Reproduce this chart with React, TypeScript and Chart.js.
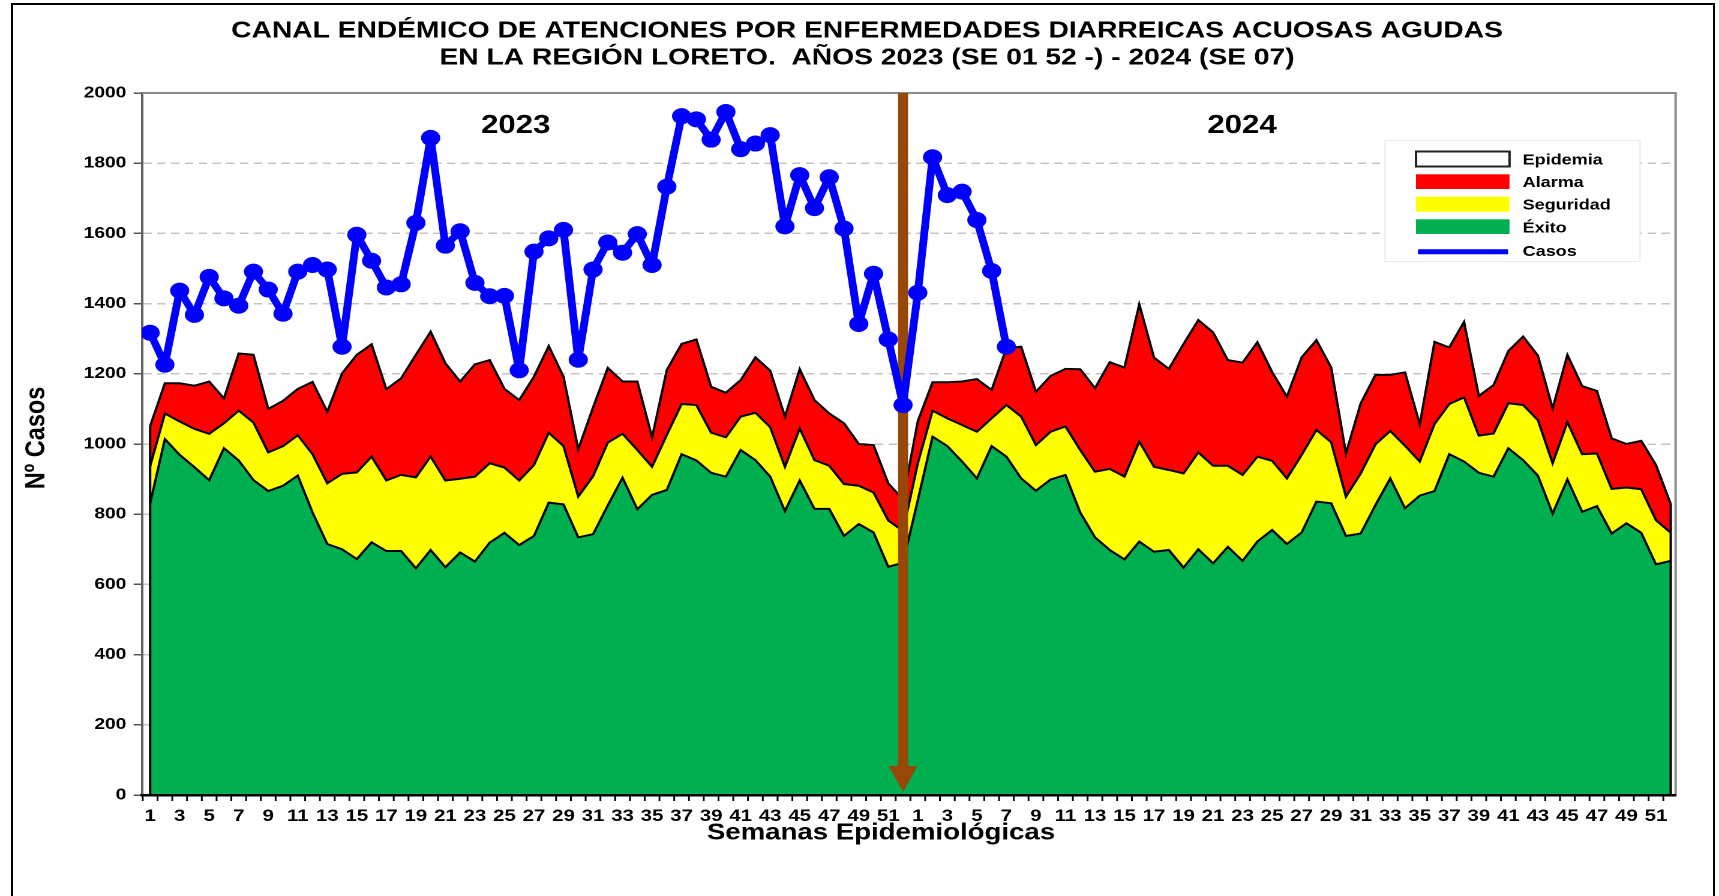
import React, { useEffect, useRef } from 'react';
import { Chart, registerables } from 'chart.js';

Chart.register(...registerables);

// ---------- DATA ----------
const SEMANAS = [1, 2, 3, 4, 5, 6, 7, 8, 9, 10, 11, 12, 13, 14, 15, 16, 17, 18, 19, 20, 21, 22, 23, 24, 25, 26,
  27, 28, 29, 30, 31, 32, 33, 34, 35, 36, 37, 38, 39, 40, 41, 42, 43, 44, 45, 46, 47, 48, 49, 50, 51, 52];
const YEARS = ['2023', '2024'];

const TITLE_LINES = [
  'CANAL ENDÉMICO DE ATENCIONES POR ENFERMEDADES DIARREICAS ACUOSAS AGUDAS',
  'EN LA REGIÓN LORETO.  AÑOS 2023 (SE 01 52 -) - 2024 (SE 07)',
];
const X_TITLE = 'Semanas Epidemiológicas';
const Y_TITLE = 'Nº Casos';
const LEGEND_LABELS = ['Epidemia', 'Alarma', 'Seguridad', 'Éxito', 'Casos'];

// upper limit of each zone per week
const EXITO_2023 = [831, 1014, 969, 934, 897, 988, 953, 897, 866, 881, 910, 805, 715, 700, 672, 720, 695, 695, 646, 698,
  649, 691, 665, 719, 747, 712, 738, 833, 828, 734, 743, 825, 904, 814, 855, 869, 971, 953, 918, 907,
  983, 954, 907, 809, 896, 815, 815, 738, 772, 748, 650, 662];
const SEGURIDAD_2023 = [937, 1087, 1064, 1043, 1029, 1059, 1095, 1061, 976, 994, 1025, 971, 888, 915, 919, 964, 896, 912, 905, 964,
  896, 901, 907, 945, 933, 896, 940, 1032, 994, 850, 908, 1004, 1029, 983, 935, 1026, 1114, 1111, 1032, 1019,
  1078, 1089, 1048, 935, 1044, 954, 938, 886, 881, 862, 782, 752];
const ALARMA_2023 = [1051, 1173, 1173, 1166, 1178, 1130, 1258, 1254, 1100, 1123, 1157, 1177, 1092, 1201, 1254, 1284, 1156, 1187, 1254, 1320,
  1230, 1178, 1227, 1239, 1157, 1125, 1192, 1279, 1192, 985, 1104, 1217, 1178, 1178, 1019, 1211, 1285, 1298, 1163, 1146,
  1182, 1247, 1209, 1078, 1213, 1125, 1087, 1059, 1000, 997, 888, 842];

const EXITO_2024 = [840, 1021, 994, 950, 902, 994, 964, 902, 867, 899, 912, 805, 734, 698, 671, 722, 693, 698, 648, 700,
  660, 707, 667, 722, 755, 715, 748, 836, 831, 738, 745, 826, 902, 817, 853, 866, 971, 950, 918, 907,
  988, 954, 910, 802, 899, 807, 823, 745, 774, 747, 657, 667];
const SEGURIDAD_2024 = [945, 1095, 1073, 1054, 1035, 1073, 1111, 1078, 997, 1035, 1050, 983, 921, 929, 907, 1007, 935, 926, 916, 976,
  938, 938, 912, 964, 952, 902, 969, 1040, 1005, 850, 916, 999, 1037, 995, 950, 1057, 1114, 1133, 1024, 1030,
  1116, 1111, 1068, 945, 1062, 971, 973, 872, 876, 871, 783, 747];
const ALARMA_2024 = [1065, 1176, 1176, 1178, 1185, 1154, 1273, 1277, 1149, 1194, 1214, 1213, 1159, 1233, 1218, 1398, 1246, 1214, 1285, 1353,
  1318, 1239, 1232, 1290, 1205, 1135, 1247, 1296, 1218, 973, 1116, 1197, 1197, 1204, 1056, 1291, 1275, 1348, 1137, 1168,
  1265, 1306, 1252, 1102, 1254, 1165, 1151, 1016, 1000, 1009, 940, 829];

const CASOS_2023 = [1317, 1226, 1437, 1368, 1476, 1415, 1394, 1491, 1440, 1371, 1491, 1510, 1497, 1277, 1596, 1522, 1446, 1455, 1630, 1872,
  1565, 1606, 1459, 1421, 1422, 1210, 1548, 1586, 1610, 1240, 1497, 1574, 1545, 1598, 1510, 1733, 1934, 1925, 1867, 1946,
  1840, 1856, 1880, 1620, 1766, 1672, 1760, 1614, 1342, 1485, 1298, 1111];
const CASOS_2024 = [1431, 1817, 1709, 1719, 1638, 1493, 1277];

const Y_MIN = 0;
const Y_MAX = 2000;
const Y_STEP = 200;

// ---------- LAYOUT / STYLE ----------
const S = 1.2; // horizontal stretch of the whole figure
const CW = 1433;
const CH = 896;
const ux = (x: number) => x / S;
const PLOT_LEFT = ux(142);
const PLOT_RIGHT = ux(1675.6);
const PLOT_TOP = 93;
const PLOT_BOTTOM = 795;
const FONT = '"Liberation Sans", Arial, Helvetica, sans-serif';
const GREEN = '#00B050';
const YELLOW = '#FFFF00';
const RED = '#FF0000';
const BLUE = '#0000FF';
const BROWN = '#974806';

const TICK_LABELS = [...SEMANAS, ...SEMANAS];
const EXITO = [...EXITO_2023, ...EXITO_2024];
const SEGURIDAD = [...SEGURIDAD_2023, ...SEGURIDAD_2024];
const ALARMA = [...ALARMA_2023, ...ALARMA_2024];
const CASOS = [...CASOS_2023, ...CASOS_2024];
const ARROW_INDEX = SEMANAS.length - 1; // last week of 2023

const pts = (arr: number[]) => arr.map((v, i) => ({ x: i, y: v }));

function txt(ctx: CanvasRenderingContext2D, s: string, x: number, y: number, size: number, align: CanvasTextAlign = 'center') {
  ctx.font = `bold ${size}px ${FONT}`;
  ctx.fillStyle = '#000';
  ctx.textAlign = align;
  ctx.textBaseline = 'middle';
  ctx.fillText(s, x, y);
}

const decor = {
  id: 'decor',
  beforeDatasetsDraw(chart: any) {
    const { ctx, chartArea: a } = chart;
    ctx.save();
    ctx.strokeStyle = '#8a8a8a';
    ctx.lineWidth = 2;
    ctx.beginPath();
    ctx.moveTo(a.left, a.top);
    ctx.lineTo(a.right, a.top);
    ctx.lineTo(a.right, a.bottom);
    ctx.stroke();
    ctx.restore();
  },
  beforeDatasetDraw(chart: any, args: any) {
    if (args.index !== 0) return;
    const { ctx, chartArea: a } = chart;
    const xs = chart.scales.x;
    const ys = chart.scales.y;
    ctx.save();
    // vertical edges of the area block
    ctx.strokeStyle = '#000';
    ctx.lineWidth = 2;
    const first = 0;
    const last = ALARMA.length - 1;
    ctx.beginPath();
    ctx.moveTo(xs.getPixelForValue(first), ys.getPixelForValue(0));
    ctx.lineTo(xs.getPixelForValue(first), ys.getPixelForValue(ALARMA[first]));
    ctx.moveTo(xs.getPixelForValue(last), ys.getPixelForValue(0));
    ctx.lineTo(xs.getPixelForValue(last), ys.getPixelForValue(ALARMA[last]));
    ctx.stroke();
    // brown arrow separating the years
    const ax = xs.getPixelForValue(ARROW_INDEX);
    const headTop = a.bottom - 29;
    const tip = a.bottom - 3;
    ctx.fillStyle = BROWN;
    ctx.fillRect(ax - 4.2, a.top, 8.4, headTop - a.top + 1);
    ctx.beginPath();
    ctx.moveTo(ax - 12, headTop);
    ctx.lineTo(ax + 12, headTop);
    ctx.lineTo(ax, tip);
    ctx.closePath();
    ctx.fill();
    ctx.restore();
  },
  afterDraw(chart: any) {
    const { ctx, chartArea: a } = chart;
    const xs = chart.scales.x;
    ctx.save();
    // x tick marks between categories
    ctx.strokeStyle = '#000';
    ctx.lineWidth = 1.5;
    ctx.beginPath();
    for (let k = 0; k <= TICK_LABELS.length; k++) {
      const v = k - 0.5;
      if (v < xs.min || v > xs.max) continue;
      const px = xs.getPixelForValue(v);
      ctx.moveTo(px, a.bottom);
      ctx.lineTo(px, a.bottom + 6);
    }
    ctx.stroke();

    // titles
    txt(ctx, TITLE_LINES[0], ux(867), 31, 23.5);
    txt(ctx, TITLE_LINES[1], ux(867), 58, 23.5);
    txt(ctx, YEARS[0], ux(515.7), 126, 26);
    txt(ctx, YEARS[1], ux(1242), 126, 26);
    txt(ctx, X_TITLE, ux(881), 833, 23);
    ctx.save();
    ctx.translate(ux(36.5), 438);
    ctx.rotate(-Math.PI / 2);
    txt(ctx, Y_TITLE, 0, 0, 23.5);
    ctx.restore();

    // legend
    const lx0 = ux(1385);
    const lx1 = ux(1640);
    ctx.fillStyle = '#fff';
    ctx.fillRect(lx0, 140.5, lx1 - lx0, 121);
    ctx.strokeStyle = '#e4e9ef';
    ctx.lineWidth = 1;
    ctx.strokeRect(lx0, 140.5, lx1 - lx0, 121);
    const sx0 = ux(1416);
    const sx1 = ux(1509.5);
    const sw = sx1 - sx0;
    ctx.fillStyle = '#fff';
    ctx.fillRect(sx0, 151.5, sw, 15);
    ctx.strokeStyle = '#222';
    ctx.lineWidth = 2;
    ctx.strokeRect(sx0, 151.5, sw, 15);
    ctx.fillStyle = RED;
    ctx.fillRect(sx0, 174.3, sw, 14.7);
    ctx.fillStyle = YELLOW;
    ctx.fillRect(sx0, 196.7, sw, 15);
    ctx.fillStyle = GREEN;
    ctx.fillRect(sx0, 219.3, sw, 14.7);
    ctx.strokeStyle = BLUE;
    ctx.lineWidth = 5;
    ctx.beginPath();
    ctx.moveTo(ux(1418), 251.7);
    ctx.lineTo(ux(1508), 251.7);
    ctx.stroke();
    const rowsY = [160.5, 183, 205.5, 228.5, 251.7];
    LEGEND_LABELS.forEach((l, i) => txt(ctx, l, ux(1522.7), rowsY[i], 15, 'left'));
    ctx.restore();
  },
};

export default function App() {
  const ref = useRef<HTMLCanvasElement>(null);

  useEffect(() => {
    const canvas = ref.current;
    if (!canvas) return;
    const areaCommon = { borderColor: '#000', borderWidth: 2, pointRadius: 0, pointHoverRadius: 0, tension: 0 };
    const chart = new Chart(canvas, {
      type: 'line',
      data: {
        datasets: [
          {
            label: LEGEND_LABELS[4], data: pts(CASOS), borderColor: BLUE, backgroundColor: BLUE,
            borderWidth: 6.5, borderJoinStyle: 'round', borderCapStyle: 'round',
            pointRadius: 8, pointHoverRadius: 8, pointBackgroundColor: BLUE,
            pointBorderColor: BLUE, pointBorderWidth: 0, fill: false, tension: 0,
          },
          {
            label: LEGEND_LABELS[0], data: pts(ALARMA), showLine: false, pointRadius: 0, pointHoverRadius: 0,
            borderWidth: 0, backgroundColor: '#fff', fill: false,
          },
          { label: LEGEND_LABELS[1], data: pts(ALARMA), backgroundColor: RED, fill: '+1', ...areaCommon },
          { label: LEGEND_LABELS[2], data: pts(SEGURIDAD), backgroundColor: YELLOW, fill: '+1', ...areaCommon },
          { label: LEGEND_LABELS[3], data: pts(EXITO), backgroundColor: GREEN, fill: 'origin', ...areaCommon },
        ],
      } as any,
      options: {
        responsive: false,
        animation: false,
        devicePixelRatio: 2,
        events: [],
        layout: { padding: { left: 0, right: CW - PLOT_RIGHT, top: PLOT_TOP, bottom: 0 } },
        plugins: {
          legend: { display: false },
          tooltip: { enabled: false },
          title: { display: false },
          filler: { drawTime: 'beforeDatasetsDraw', propagate: false },
        },
        scales: {
          x: {
            type: 'linear',
            min: -0.55,
            max: 103.33,
            afterFit: (s: any) => { s.height = CH - PLOT_BOTTOM; },
            grid: { display: true, drawOnChartArea: false, drawTicks: false },
            border: { display: true, color: '#000', width: 2.5, z: 1 },
            ticks: {
              stepSize: 1,
              includeBounds: false,
              autoSkip: false,
              maxRotation: 0,
              minRotation: 0,
              padding: 11,
              color: '#000',
              font: { family: FONT, size: 17, weight: 'bold' },
              callback: (v: any) => {
                const n = Number(v);
                return Number.isInteger(n) && n >= 0 && n % 2 === 0 && n < TICK_LABELS.length ? String(TICK_LABELS[n]) : '';
              },
            },
          },
          y: {
            type: 'linear',
            min: Y_MIN,
            max: Y_MAX,
            afterFit: (s: any) => { s.width = PLOT_LEFT; },
            grid: { color: '#c4c4c4', lineWidth: 1.5, drawTicks: true, tickLength: 7, tickColor: '#555', tickWidth: 1.5 },
            border: { display: true, color: '#606060', width: 2, dash: [7, 4.5] },
            ticks: {
              stepSize: Y_STEP, padding: 6, color: '#000',
              font: { family: FONT, size: 16, weight: 'bold' },
              callback: (v: any) => String(v),
            },
          },
        },
      } as any,
      plugins: [decor],
    });
    return () => chart.destroy();
  }, []);

  return (
    <div style={{ position: 'fixed', left: 0, top: 0, width: 1719, height: 896, overflow: 'hidden', background: '#fff' }}>
      <div style={{ position: 'absolute', left: 11, top: 3, width: 1704, height: 1100, border: '2px solid #000', boxSizing: 'border-box' }} />
      <div style={{ position: 'absolute', left: 0, top: 0, width: CW, height: CH, transform: `scaleX(${S})`, transformOrigin: '0 0' }}>
        <canvas ref={ref} width={CW} height={CH} style={{ display: 'block' }} />
      </div>
    </div>
  );
}
